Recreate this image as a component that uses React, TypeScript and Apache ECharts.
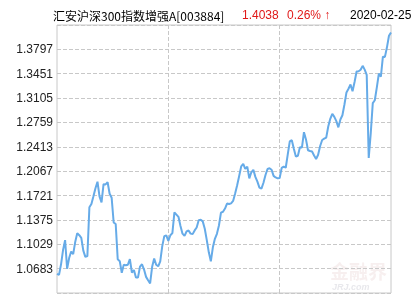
import React, { useEffect, useRef } from "react";
import * as echarts from "echarts";

// Net asset value readings (left to right, daily)
const navValues: number[] = [
  1.0609, 1.0594, 1.0745, 1.095, 1.1088, 1.0682, 1.0833, 1.0926, 1.0888, 1.1062,
  1.1187, 1.1158, 1.1119, 1.0939, 1.085, 1.0861, 1.1555, 1.1601, 1.171, 1.1824,
  1.1918, 1.171, 1.1624, 1.1883, 1.1879, 1.191, 1.1746, 1.1689, 1.1338, 1.1316,
  1.0815, 1.0789, 1.0624, 1.074, 1.073, 1.0738, 1.0817, 1.0628, 1.0663, 1.0556,
  1.0556, 1.0711, 1.0745, 1.067, 1.0566, 1.0517, 1.0472, 1.0709, 1.0826, 1.0738,
  1.0716, 1.0786, 1.1003, 1.1144, 1.1154, 1.1076, 1.1157, 1.1188, 1.1481, 1.145,
  1.1419, 1.1289, 1.118, 1.1149, 1.1211, 1.1225, 1.118, 1.1173, 1.1226, 1.1267,
  1.1371, 1.1378, 1.1354, 1.1249, 1.1088, 1.0915, 1.0786, 1.0986, 1.1106, 1.1178,
  1.1296, 1.1478, 1.1491, 1.1536, 1.1607, 1.16, 1.161, 1.1644, 1.175, 1.1867,
  1.1999, 1.2135, 1.217, 1.2099, 1.2132, 1.1964, 1.2051, 1.2087, 1.1986, 1.1918,
  1.1833, 1.1819, 1.1903, 1.2012, 1.2098, 1.2108, 1.2088, 1.2, 1.1978, 1.1965,
  1.1971, 1.2114, 1.2132, 1.2116, 1.2305, 1.2489, 1.2507, 1.2385, 1.2276, 1.2286,
  1.2407, 1.2402, 1.262, 1.2518, 1.2365, 1.2354, 1.2347, 1.2289, 1.224, 1.23,
  1.2425, 1.251, 1.2528, 1.2544, 1.2701, 1.281, 1.2882, 1.2838, 1.2777, 1.269,
  1.2801, 1.2861, 1.3014, 1.3186, 1.3237, 1.3298, 1.3203, 1.3333, 1.3482, 1.3486,
  1.3507, 1.3563, 1.3509, 1.3435, 1.2254, 1.2607, 1.3033, 1.3074, 1.3257, 1.3452,
  1.341, 1.3694, 1.369, 1.3826, 1.399, 1.4038,
];

// Y axis: base value and step of the tick labels (1.0683 ... 1.3797)
const yBase = 1.0337;
const yStep = 0.0346;
const yIntervals = 11;

// Vertical guide positions (category indices)
const guideIndices = [55, 110];

const fundName = "汇安沪深300指数增强A[003884]";
const latestNav = "1.4038";
const latestChange = "0.26% ↑";
const latestDate = "2020-02-25";

export default function App() {
  const ref = useRef<HTMLDivElement>(null);

  useEffect(() => {
    if (!ref.current) return;
    const chart = echarts.init(ref.current, null, { renderer: "svg" });
    const cats = navValues.map((_, i) => String(i));
    const numFont = '"Liberation Sans", Arial, sans-serif';
    chart.setOption({
      animation: false,
      grid: {
        left: 57,
        right: 24,
        top: 25,
        bottom: 4,
        show: true,
        borderColor: "#c8c8c8",
        borderWidth: 1,
      },
      xAxis: {
        type: "category",
        data: cats,
        boundaryGap: false,
        axisLine: { show: false },
        axisTick: { show: false },
        axisLabel: { show: false },
        splitLine: {
          show: true,
          interval: (i: number) => guideIndices.includes(i),
          lineStyle: { type: "dashed", color: "#c8c8c8", width: 1 },
        },
      },
      yAxis: {
        type: "value",
        min: 0,
        max: Number((yStep * yIntervals).toFixed(4)),
        interval: yStep,
        axisLine: { show: false },
        axisTick: { show: false },
        axisLabel: {
          showMinLabel: false,
          showMaxLabel: false,
          margin: 4,
          color: "#222",
          fontSize: 12,
          fontFamily: numFont,
          formatter: (v: number) => (v + yBase).toFixed(4),
        },
        splitLine: {
          show: true,
          lineStyle: { type: "dashed", color: "#c8c8c8", width: 1 },
        },
      },
      series: [
        {
          type: "line",
          data: navValues.map((v) => Number((v - yBase).toFixed(6))),
          showSymbol: false,
          symbol: "none",
          lineStyle: { color: "#66abe8", width: 2 },
        },
      ],
      graphic: [
        {
          type: "text",
          x: 53,
          y: 15,
          style: {
            text: fundName,
            font: '12px "Noto Sans CJK SC", sans-serif',
            fill: "#000",
            verticalAlign: "middle",
          },
        },
        {
          type: "text",
          x: 242,
          y: 15,
          style: {
            text: latestNav,
            font: "12px " + numFont,
            fill: "#e01818",
            verticalAlign: "middle",
          },
        },
        {
          type: "text",
          x: 287,
          y: 15,
          style: {
            text: latestChange,
            font: "12px " + numFont,
            fill: "#e01818",
            verticalAlign: "middle",
          },
        },
        {
          type: "text",
          x: 350,
          y: 15,
          style: {
            text: latestDate,
            font: "12px " + numFont,
            fill: "#000",
            verticalAlign: "middle",
          },
        },
        {
          type: "text",
          x: 330,
          y: 270,
          silent: true,
          style: {
            text: "金融界",
            font: 'bold 19px "Noto Sans CJK SC", sans-serif',
            fill: "rgba(215,175,175,0.2)",
            verticalAlign: "middle",
          },
        },
        {
          type: "text",
          x: 332,
          y: 287,
          silent: true,
          style: {
            text: "JRJ.com",
            font: 'italic bold 9px "Liberation Sans", sans-serif',
            fill: "rgba(190,190,200,0.35)",
            verticalAlign: "middle",
          },
        },
      ],
    });
    return () => chart.dispose();
  }, []);

  return (
    <div
      ref={ref}
      style={{ position: "fixed", left: 0, top: 0, width: 415, height: 297 }}
    />
  );
}
